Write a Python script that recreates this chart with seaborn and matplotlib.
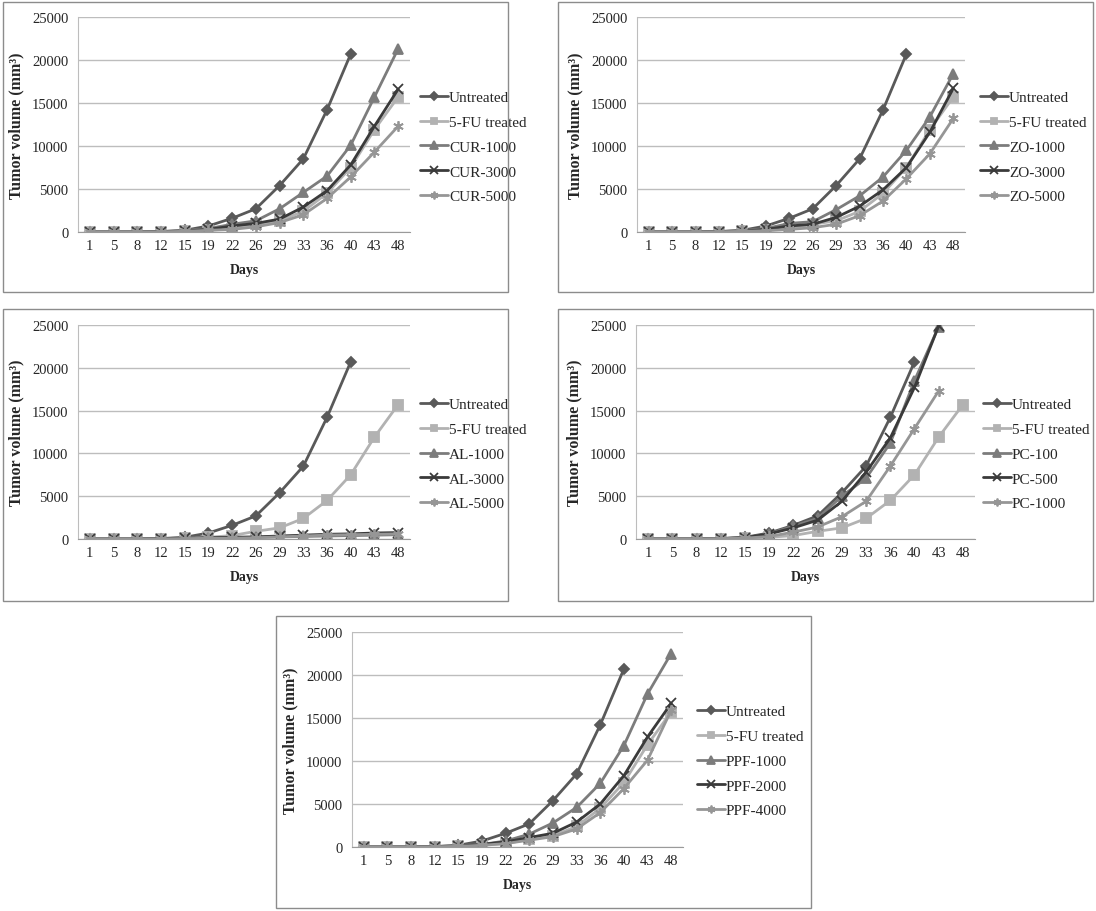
import pandas as pd
import seaborn as sns
from matplotlib import pyplot as plt
from matplotlib.patches import Rectangle

# Dades: volum tumoral (mm3) per dia
days = [1, 5, 8, 12, 15, 19, 22, 26, 29, 33, 36, 40, 43, 48]

untreated = [0, 0, 0, 50, 200, 700, 1600, 2700, 5400, 8500, 14200, 20700, None, None]
fu_treated = [0, 0, 0, 50, 100, 200, 400, 900, 1300, 2400, 4500, 7500, 11900, 15700]

cur_1000 = [0, 0, 0, 50, 150, 400, 900, 1300, 2700, 4600, 6500, 10100, 15700, 21300]
cur_3000 = [0, 0, 0, 50, 100, 300, 700, 1000, 1500, 2900, 4800, 7800, 12300, 16600]
cur_5000 = [0, 0, 0, 30, 80, 200, 300, 600, 1100, 2000, 3900, 6400, 9300, 12300]

zo_1000 = [0, 0, 0, 50, 150, 400, 1000, 1200, 2600, 4200, 6400, 9500, 13400, 18400]
zo_3000 = [0, 0, 0, 50, 100, 300, 700, 900, 1700, 3000, 4900, 7500, 11600, 16700]
zo_5000 = [0, 0, 0, 30, 80, 150, 300, 500, 900, 1900, 3600, 6200, 9100, 13200]

al_1000 = [0, 0, 0, 20, 50, 100, 150, 200, 250, 300, 350, 400, 450, 500]
al_3000 = [0, 0, 0, 50, 100, 150, 200, 250, 350, 450, 550, 600, 700, 750]
al_5000 = [0, 0, 0, 20, 50, 80, 100, 150, 250, 350, 450, 500, 550, 600]

pc_100 = [0, 0, 0, 50, 150, 600, 1500, 2400, 5000, 7100, 11200, 18500, 24800, None]
pc_500 = [0, 0, 0, 50, 150, 600, 1300, 2200, 4400, 7800, 11800, 17700, 24900, None]
pc_1000 = [0, 0, 0, 50, 100, 300, 800, 1400, 2600, 4400, 8500, 12900, 17300, None]

ppf_1000 = [0, 0, 0, 50, 150, 300, 700, 1500, 2800, 4600, 7400, 11800, 17800, 22500]
ppf_2000 = [0, 0, 0, 50, 100, 300, 600, 1100, 1600, 2900, 5000, 8300, 12800, 16700]
ppf_4000 = [0, 0, 0, 30, 80, 200, 400, 800, 1200, 2100, 4000, 6800, 10100, 15900]

panells = [
    (["CUR-1000", "CUR-3000", "CUR-5000"], [cur_1000, cur_3000, cur_5000]),
    (["ZO-1000", "ZO-3000", "ZO-5000"], [zo_1000, zo_3000, zo_5000]),
    (["AL-1000", "AL-3000", "AL-5000"], [al_1000, al_3000, al_5000]),
    (["PC-100", "PC-500", "PC-1000"], [pc_100, pc_500, pc_1000]),
    (["PPF-1000", "PPF-2000", "PPF-4000"], [ppf_1000, ppf_2000, ppf_4000]),
]

colors = ["#595959", "#b2b2b2", "#7c7c7c", "#3a3a3a", "#969696"]
markers = ["D", "s", "^", "x", (6, 2, 0)]
msizes = [5.5, 6.5, 7, 7, 7.5]

sns.set_style("white")
plt.rcParams["font.family"] = ["Liberation Serif", "DejaVu Serif"]

W, H = 1096, 912
fig = plt.figure(figsize=(W / 100, H / 100), dpi=100)

# caixes (px): marc, eix (esq, dreta, dalt, baix), llegenda (x, y centre)
caixes = [
    ((3, 3, 508, 293), (78, 410, 18, 233), (420, 148)),
    ((558, 3, 1093, 293), (637, 965, 18, 233), (980, 148)),
    ((3, 310, 508, 602), (78, 410, 326, 540), (420, 455)),
    ((558, 310, 1093, 602), (636, 975, 326, 540), (983, 455)),
    ((276, 617, 811, 909), (352, 683, 633, 848), (697, 762)),
]

for (noms, series), (marc, eix, lleg) in zip(panells, caixes):
    x0, y0, x1, y1 = marc
    fig.patches.append(Rectangle((x0 / W, 1 - y1 / H), (x1 - x0) / W, (y1 - y0) / H,
                                 transform=fig.transFigure, fill=False,
                                 edgecolor="#8c8c8c", lw=1.0))
    l, r, t, b = eix
    ax = fig.add_axes([l / W, 1 - b / H, (r - l) / W, (b - t) / H])
    ax.patch.set_alpha(0)

    etiquetes = ["Untreated", "5-FU treated"] + noms
    valors = [untreated, fu_treated] + series
    for i, (nom, v) in enumerate(zip(etiquetes, valors)):
        df = pd.DataFrame({"pos": range(len(days)), "vol": v}).dropna()
        sns.lineplot(data=df, x="pos", y="vol", ax=ax, color=colors[i],
                     marker=markers[i], markersize=msizes[i], markeredgecolor=colors[i],
                     markeredgewidth=1.3, linewidth=2.0, label=nom)

    ax.set_xlim(-0.5, len(days) - 0.5)
    ax.set_ylim(0, 25000)
    ax.set_yticks(range(0, 25001, 5000))
    ax.set_xticks(range(len(days)))
    ax.set_xticklabels([str(d) for d in days])
    ax.yaxis.grid(True, color="#bdbdbd", lw=1.0)
    ax.set_axisbelow(True)
    for s in ["top", "right"]:
        ax.spines[s].set_visible(False)
    ax.spines["left"].set_color("#bdbdbd")
    ax.spines["bottom"].set_color("#9a9a9a")
    ax.tick_params(axis="y", length=4, color="#bdbdbd", labelsize=10.5, pad=3)
    ax.tick_params(axis="x", length=0, labelsize=10.5, pad=5)
    ax.set_xlabel("Days", fontsize=10, fontweight="bold", labelpad=8)
    ax.set_ylabel("Tumor volume (mm³)", fontsize=11.5, fontweight="bold", labelpad=5)

    ax.legend(loc="center left", bbox_to_anchor=(lleg[0] / W, 1 - lleg[1] / H),
              bbox_transform=fig.transFigure, frameon=False, fontsize=11,
              handlelength=1.8, handletextpad=0.1, labelspacing=0.72,
              markerscale=0.75, borderpad=0, borderaxespad=0)

fig.savefig("out.png", dpi=100, facecolor="white")
